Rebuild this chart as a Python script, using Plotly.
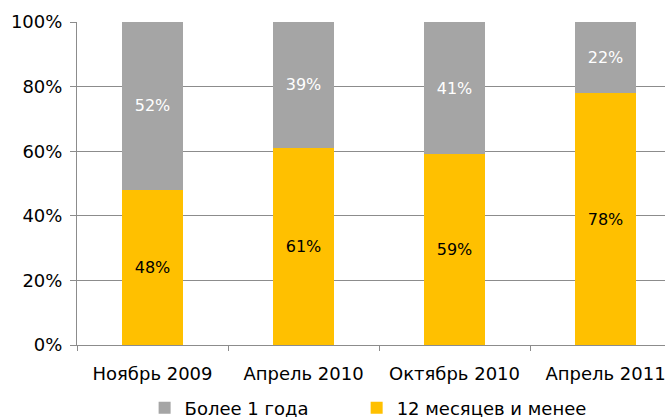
import plotly.graph_objects as go

categories = ['Ноябрь 2009', 'Апрель 2010', 'Октябрь 2010', 'Апрель 2011']
short_term = [48, 61, 59, 78]   # 12 месяцев и менее
long_term = [52, 39, 41, 22]    # Более 1 года

yellow = '#FFC000'
gray = '#A5A5A5'
axis_gray = '#8C8C8C'

fig = go.Figure()

fig.add_trace(go.Bar(
    x=categories, y=short_term, name='12 месяцев и менее',
    marker=dict(color=yellow, line=dict(width=0)),
    text=[f'{v}%' for v in short_term], textposition='inside',
    insidetextanchor='middle',
    textfont=dict(color='black', size=16), textangle=0,
    legend='legend2',
))
fig.add_trace(go.Bar(
    x=categories, y=long_term, name='Более 1 года',
    marker=dict(color=gray, line=dict(width=0)),
    text=[f'{v}%' for v in long_term], textposition='inside',
    insidetextanchor='middle',
    textfont=dict(color='white', size=16), textangle=0,
    legend='legend',
))

# one legend per series so the spacing between the two entries can be set
legend_style = dict(orientation='h', xanchor='left', y=-0.195, yanchor='middle',
                    font=dict(size=18), itemwidth=30, bgcolor='rgba(0,0,0,0)')

fig.update_layout(
    barmode='stack',
    bargap=0.6,
    width=665, height=417,
    margin=dict(l=77, r=0, t=22, b=72, autoexpand=False),
    plot_bgcolor='white', paper_bgcolor='white',
    font=dict(family='DejaVu Sans', color='black', size=18),
    uniformtext=dict(mode='show', minsize=10),
    showlegend=True,
    legend=dict(x=0.115, **legend_style),
    legend2=dict(x=0.4756, **legend_style),
    xaxis=dict(
        range=[-0.5, 3.394], automargin=False,
        showline=True, linecolor=axis_gray, linewidth=1,
        ticks='outside', tickson='boundaries', ticklen=5, tickcolor=axis_gray,
        showgrid=False, tickfont=dict(size=18), ticklabelstandoff=12,
    ),
    yaxis=dict(
        range=[0, 100], dtick=20, ticksuffix='%', automargin=False,
        showline=True, linecolor=axis_gray, linewidth=1,
        ticks='outside', ticklen=6, tickcolor=axis_gray,
        showgrid=True, gridcolor=axis_gray, gridwidth=1,
        zeroline=False, tickfont=dict(size=18), ticklabelstandoff=4,
    ),
)

# drop the default page margin so the figure sits at the window's corner
fig.write_html("out.html", config={'displayModeBar': False},
               post_script="document.body.style.margin='0';")
